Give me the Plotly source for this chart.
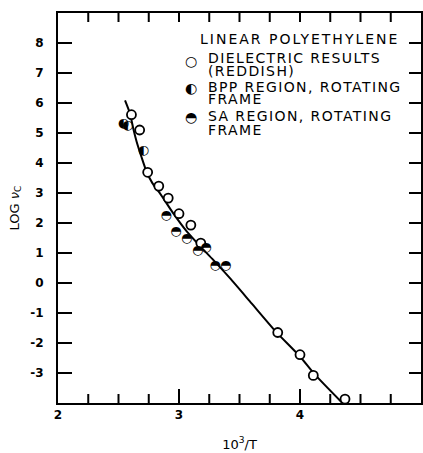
import plotly.graph_objects as go

# ---- data ----
diel_x = [2.607, 2.675, 2.741, 2.833, 2.911, 3.000, 3.098, 3.180, 3.816, 4.000, 4.110, 4.372]
diel_y = [5.61, 5.10, 3.69, 3.23, 2.83, 2.31, 1.93, 1.33, -1.65, -2.39, -3.08, -3.87]

bpp_x = [2.540, 2.576, 2.705]
bpp_y = [5.32, 5.23, 4.41]

sa_x = [2.893, 2.975, 3.064, 3.155, 3.223, 3.298, 3.386]
sa_y = [2.23, 1.71, 1.46, 1.08, 1.16, 0.57, 0.59]

curve_x = [2.554, 2.595, 2.622, 2.650, 2.690, 2.733, 2.780, 2.843, 2.953, 3.064,
           3.174, 3.283, 3.421, 3.600, 3.800, 4.000, 4.120, 4.350]
curve_y = [6.09, 5.65, 5.15, 4.71, 4.20, 3.70, 3.33, 2.99, 2.32, 1.72,
           1.23, 0.77, 0.16, -0.68, -1.62, -2.45, -3.04, -4.00]

x_tickvals = [2, 3, 4, 5]
x_ticktext = ["2", "3", "4", "5"]
y_tickvals = [-3, -2, -1, 0, 1, 2, 3, 4, 5, 6, 7, 8]
y_ticktext = ["-3", "-2", "-1", "0", "1", "2", "3", "4", "5", "6", "7", "8"]

legend_title = "LINEAR POLYETHYLENE"
legend_lines = [
    ("\u25CB", "DIELECTRIC RESULTS", "(REDDISH)"),
    ("\u25D0", "BPP REGION, ROTATING", "FRAME"),
    ("\u25D3", "SA REGION, ROTATING", "FRAME"),
]

FONT = "DejaVu Sans"
X_RANGE = [2, 5]
Y_RANGE = [-4, 9]

# plot-area size in pixels (from the margins below)
px_left, px_w, px_top, px_h = 58, 363, 13, 390
ux = (X_RANGE[1] - X_RANGE[0]) / px_w   # data units per pixel
uy = (Y_RANGE[1] - Y_RANGE[0]) / px_h

fig = go.Figure()

# tick marks drawn as a line trace (positions from the tick arrays, lengths in pixels)
tx, ty = [], []
for v in y_tickvals:
    tx += [X_RANGE[0], X_RANGE[0] + 14 * ux, None, X_RANGE[1] - 12 * ux, X_RANGE[1], None]
    ty += [v, v, None, v, v, None]
x_all = []
for a, b in zip(x_tickvals[:-1], x_tickvals[1:]):
    for k in range(4):
        x_all.append(a + (b - a) * k / 4)
for v in x_all[1:]:
    blen = 14 if v in x_tickvals else 9
    tx += [v, v, None, v, v, None]
    ty += [Y_RANGE[0], Y_RANGE[0] + blen * uy, None, Y_RANGE[1] - 9 * uy, Y_RANGE[1], None]
fig.add_trace(go.Scatter(x=tx, y=ty, mode="lines", line=dict(color="black", width=2),
                         hoverinfo="skip", showlegend=False, connectgaps=False))

fig.add_trace(go.Scatter(x=curve_x, y=curve_y, mode="lines",
                         line=dict(color="black", width=2, shape="spline", smoothing=0.6),
                         hoverinfo="skip", showlegend=False))

fig.add_trace(go.Scatter(x=diel_x, y=diel_y, mode="markers",
                         marker=dict(symbol="circle", size=9, color="white",
                                     line=dict(color="black", width=1.8)),
                         showlegend=False))

fig.add_trace(go.Scatter(x=bpp_x, y=bpp_y, mode="text", text=["\u25D0"] * len(bpp_x),
                         textposition="middle center",
                         textfont=dict(family=FONT, size=13, color="black"),
                         showlegend=False))

fig.add_trace(go.Scatter(x=sa_x, y=sa_y, mode="text", text=["\u25D3"] * len(sa_x),
                         textposition="middle center",
                         textfont=dict(family=FONT, size=13, color="black"),
                         showlegend=False))

tickfont = dict(family=FONT, size=12, color="black")

fig.update_layout(
    width=423, height=453,
    margin=dict(l=px_left, r=423 - px_left - px_w, t=px_top, b=453 - px_top - px_h,
                autoexpand=False),
    paper_bgcolor="white", plot_bgcolor="white",
    xaxis=dict(range=X_RANGE, tickmode="array", tickvals=x_tickvals,
               ticktext=["<b>%s</b>" % t for t in x_ticktext],
               ticks="", showline=True, linecolor="black", linewidth=2, mirror=True,
               showgrid=False, zeroline=False, tickfont=tickfont, automargin=False,
               title=dict(text="10<sup>3</sup>/T", font=dict(family=FONT, size=13, color="black"),
                          standoff=18)),
    yaxis=dict(range=Y_RANGE, tickmode="array", tickvals=y_tickvals,
               ticktext=["<b>%s</b>" % t for t in y_ticktext],
               ticks="", showline=True, linecolor="black", linewidth=2, mirror=True,
               showgrid=False, zeroline=False, tickfont=tickfont, automargin=False,
               ticklabelstandoff=10,
               title=dict(text="LOG <i>\u03BD</i><sub>C</sub>",
                          font=dict(family=FONT, size=13, color="black"), standoff=8)),
)

def px2paper(px, py):
    return (px - px_left) / px_w, (px_top + px_h - py) / px_h

def spaced(t, ls):
    return '<span style="letter-spacing:%.1fpx">%s</span>' % (ls, t)

annots = []
ax, ay = px2paper(198, 39)
annots.append(dict(x=ax, y=ay, text=spaced(legend_title, 2.0), xanchor="left", yanchor="middle"))
rows = [(61, 58, 70.5), (87.5, 87, 99), (117, 116.5, 130)]
for (sym, l1, l2), (sy, y1, y2) in zip(legend_lines, rows):
    sx, syp = px2paper(191, sy)
    annots.append(dict(x=sx, y=syp, text=sym, xanchor="center", yanchor="middle"))
    lx, ly = px2paper(206, y1)
    annots.append(dict(x=lx, y=ly, text=spaced(l1, 1.4), xanchor="left", yanchor="middle"))
    lx, ly = px2paper(206, y2)
    annots.append(dict(x=lx, y=ly, text=spaced(l2, 1.4), xanchor="left", yanchor="middle"))

for a in annots:
    a.update(xref="paper", yref="paper", showarrow=False,
             font=dict(family=FONT, size=14, color="black"))
fig.update_layout(annotations=annots)

fig.write_html("out.html", config={"displayModeBar": False},
               post_script="document.body.style.margin='0';document.body.style.overflow='hidden';")
